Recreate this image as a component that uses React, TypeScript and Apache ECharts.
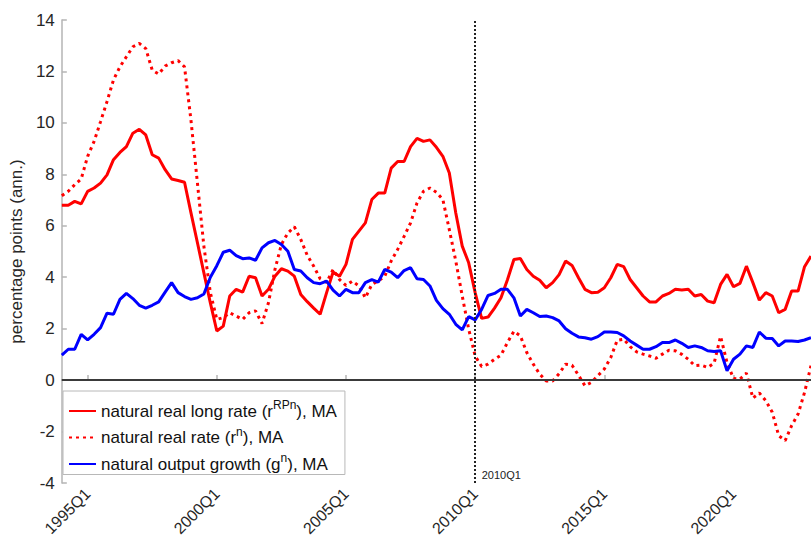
import React, { useEffect, useRef } from "react";
import * as echarts from "echarts";

// quarters 1994Q1 .. 2023Q1
const quarters: string[] = [];
for (let y = 1994; y <= 2023; y++) {
  for (let q = 1; q <= 4; q++) {
    if (y === 2023 && q > 1) break;
    quarters.push(`${y}Q${q}`);
  }
}

const longRate = [
  6.8, 6.8, 6.95, 6.85, 7.34, 7.47, 7.66, 7.98, 8.57, 8.85,
  9.08, 9.6, 9.75, 9.53, 8.76, 8.63, 8.18, 7.82, 7.76, 7.69,
  6.5, 5.34, 4.17, 3.0, 1.91, 2.1, 3.27, 3.53, 3.42, 4.04,
  3.98, 3.27, 3.53, 4.04, 4.33, 4.24, 4.04, 3.33, 3.05, 2.8,
  2.56, 3.4, 4.2, 4.04, 4.5, 5.47, 5.79, 6.11, 7.02, 7.27,
  7.27, 8.24, 8.5, 8.5, 9.08, 9.4, 9.28, 9.34, 9.05, 8.7,
  8.05, 6.5, 5.21, 4.56, 3.4, 2.4, 2.45, 2.8, 3.2, 3.9,
  4.69, 4.73, 4.3, 4.04, 3.88, 3.59, 3.79, 4.1, 4.63, 4.46,
  3.98, 3.53, 3.4, 3.42, 3.59, 3.98, 4.5, 4.41, 3.91, 3.59,
  3.27, 3.04, 3.04, 3.27, 3.37, 3.53, 3.5, 3.53, 3.27, 3.33,
  3.07, 3.01, 3.72, 4.11, 3.63, 3.76, 4.43, 3.79, 3.11, 3.4,
  3.27, 2.62, 2.75, 3.46, 3.46, 4.41, 4.82,
];

const naturalRate = [
  7.17, 7.34, 7.6, 7.82, 8.7, 9.28, 10.05, 10.83, 11.67, 12.18,
  12.57, 12.96, 13.09, 12.89, 12.05, 11.9, 12.21, 12.34, 12.42, 12.18,
  10.1, 7.66, 5.2, 3.4, 2.36, 2.43, 2.62, 2.49, 2.36, 2.62,
  2.69, 2.2, 3.01, 4.3, 5.27, 5.72, 5.96, 5.47, 4.85, 4.43,
  3.94, 3.8, 4.3, 3.91, 3.68, 3.85, 3.66, 3.2, 3.72, 3.85,
  4.04, 4.63, 5.08, 5.59, 6.11, 6.89, 7.34, 7.47, 7.3, 7.02,
  5.85, 4.63, 3.27, 1.98, 0.94, 0.53, 0.62, 0.81, 0.97, 1.46,
  1.9, 1.72, 1.07, 0.62, 0.23, -0.03, -0.03, 0.25, 0.62, 0.58,
  0.19, -0.22, -0.09, 0.17, 0.43, 0.88, 1.55, 1.59, 1.3, 1.1,
  1.01, 0.94, 0.85, 1.01, 1.16, 1.14, 1.0, 0.81, 0.56, 0.58,
  0.49, 0.66, 1.7, 0.68, 0.06, 0.04, 0.27, -0.7, -0.5, -0.8,
  -1.25, -2.16, -2.35, -1.77, -1.32, -0.48, 0.56,
];

const outputGrowth = [
  0.97, 1.2, 1.2, 1.78, 1.56, 1.78, 2.04, 2.6, 2.56, 3.14,
  3.37, 3.17, 2.91, 2.8, 2.91, 3.04, 3.42, 3.79, 3.4, 3.25,
  3.14, 3.2, 3.35, 4.0, 4.45, 4.97, 5.05, 4.84, 4.72, 4.75,
  4.66, 5.14, 5.34, 5.43, 5.27, 5.01, 4.3, 4.24, 3.98, 3.79,
  3.75, 3.85, 3.5, 3.27, 3.53, 3.4, 3.4, 3.79, 3.91, 3.81,
  4.3, 4.2, 3.98, 4.26, 4.37, 3.94, 3.91, 3.66, 3.1, 2.78,
  2.56, 2.17, 1.95, 2.47, 2.34, 2.75, 3.29, 3.37, 3.53, 3.53,
  3.2, 2.49, 2.75, 2.62, 2.47, 2.49, 2.43, 2.3, 2.0, 1.82,
  1.68, 1.65, 1.59, 1.69, 1.87, 1.87, 1.85, 1.72, 1.52, 1.36,
  1.2, 1.2, 1.3, 1.46, 1.46, 1.56, 1.43, 1.27, 1.33, 1.27,
  1.14, 1.11, 1.14, 0.36, 0.81, 1.01, 1.33, 1.27, 1.87, 1.63,
  1.62, 1.33, 1.52, 1.52, 1.5, 1.56, 1.65,
];

const NAME_LONG = "natural real long rate (rRPn), MA";
const NAME_RATE = "natural real rate (rn), MA";
const NAME_GROWTH = "natural output growth (gn), MA";
const legendNames = [NAME_LONG, NAME_RATE, NAME_GROWTH];
const legendRich: Record<string, string> = {
  [NAME_LONG]: "{t|natural real long rate (r}{s|RPn}{t|), MA}",
  [NAME_RATE]: "{t|natural real rate (r}{s|n}{t|), MA}",
  [NAME_GROWTH]: "{t|natural output growth (g}{s|n}{t|), MA}",
};

const MARK_QUARTER = "2010Q1";
const FONT = "Liberation Sans, Arial, Helvetica, sans-serif";

const isMajor = (_i: number, v: string) =>
  v.endsWith("Q1") && parseInt(v, 10) % 5 === 0;

export default function App() {
  const ref = useRef<HTMLDivElement>(null);
  useEffect(() => {
    if (!ref.current) return;
    const chart = echarts.init(ref.current, undefined, { renderer: "svg" });
    chart.setOption({
      animation: false,
      backgroundColor: "#ffffff",
      textStyle: { fontFamily: FONT },
      grid: { left: 57.5, top: 20, right: 0, bottom: 66, containLabel: false },
      legend: {
        data: legendNames,
        orient: "vertical",
        left: 63,
        top: 391,
        padding: [8, 8, 2, 5],
        itemGap: 6,
        itemWidth: 27,
        itemHeight: 14,
        backgroundColor: "#ffffff",
        borderColor: "#b8b8b8",
        borderWidth: 1,
        borderRadius: 0,
        selectedMode: false,
        itemStyle: { color: "rgba(0,0,0,0)", borderColor: "rgba(0,0,0,0)", borderWidth: 0 },
        formatter: (name: string) => legendRich[name] || name,
        textStyle: {
          fontFamily: FONT,
          rich: {
            t: { fontSize: 17, color: "#111111", lineHeight: 24, fontFamily: FONT },
            s: { fontSize: 12, color: "#111111", lineHeight: 12, verticalAlign: "top", fontFamily: FONT },
          },
        },
      },
      xAxis: {
        type: "category",
        data: quarters,
        boundaryGap: false,
        axisLine: { show: true, lineStyle: { color: "#b4b4b4", width: 1.5 } },
        axisTick: { show: true, inside: true, length: 5, interval: isMajor, lineStyle: { color: "#b4b4b4", width: 1.5 } },
        axisLabel: {
          interval: isMajor,
          rotate: 45,
          fontSize: 16,
          color: "#262626",
          margin: 8,
          fontFamily: FONT,
        },
        splitLine: { show: false },
      },
      yAxis: {
        type: "value",
        min: -4,
        max: 14,
        interval: 2,
        name: "percentage points (ann.)",
        nameLocation: "middle",
        nameGap: 21,
        nameTextStyle: { fontSize: 17, color: "#262626", fontFamily: FONT },
        axisLine: { show: true, lineStyle: { color: "#b4b4b4", width: 1.5 } },
        axisTick: { show: true, inside: true, length: 5, lineStyle: { color: "#b4b4b4", width: 1.5 } },
        axisLabel: { fontSize: 17, color: "#262626", margin: 7, fontFamily: FONT },
        splitLine: { show: false },
      },
      series: [
        {
          name: NAME_LONG,
          type: "line",
          data: longRate,
          showSymbol: false,
          symbol: "none",
          lineStyle: { color: "#ff0000", width: 3 },
          itemStyle: { color: "#ff0000" },
          markLine: {
            silent: true,
            symbol: ["none", "none"],
            label: { show: false },
            data: [
              { yAxis: 0, lineStyle: { color: "#3a3a3a", width: 2.2, type: "solid" } },
              { xAxis: MARK_QUARTER, lineStyle: { color: "#222222", width: 2, type: [2, 2] } },
            ],
          },
          markPoint: {
            silent: true,
            data: [
              {
                coord: [MARK_QUARTER, -4],
                symbol: "circle",
                symbolSize: 1,
                itemStyle: { color: "transparent" },
                label: {
                  show: true,
                  formatter: MARK_QUARTER,
                  position: "right",
                  distance: 6,
                  offset: [0, -8],
                  fontSize: 11,
                  color: "#222222",
                  fontFamily: FONT,
                },
              },
            ],
          },
        },
        {
          name: NAME_RATE,
          type: "line",
          data: naturalRate,
          showSymbol: false,
          symbol: "none",
          lineStyle: { color: "#ff0000", width: 3, type: [3, 4] },
          itemStyle: { color: "#ff0000" },
        },
        {
          name: NAME_GROWTH,
          type: "line",
          data: outputGrowth,
          showSymbol: false,
          symbol: "none",
          lineStyle: { color: "#0000ff", width: 3 },
          itemStyle: { color: "#0000ff" },
        },
      ],
    });
    return () => chart.dispose();
  }, []);
  return (
    <div
      ref={ref}
      style={{ position: "absolute", left: 0, top: 0, width: 811, height: 549 }}
    />
  );
}
